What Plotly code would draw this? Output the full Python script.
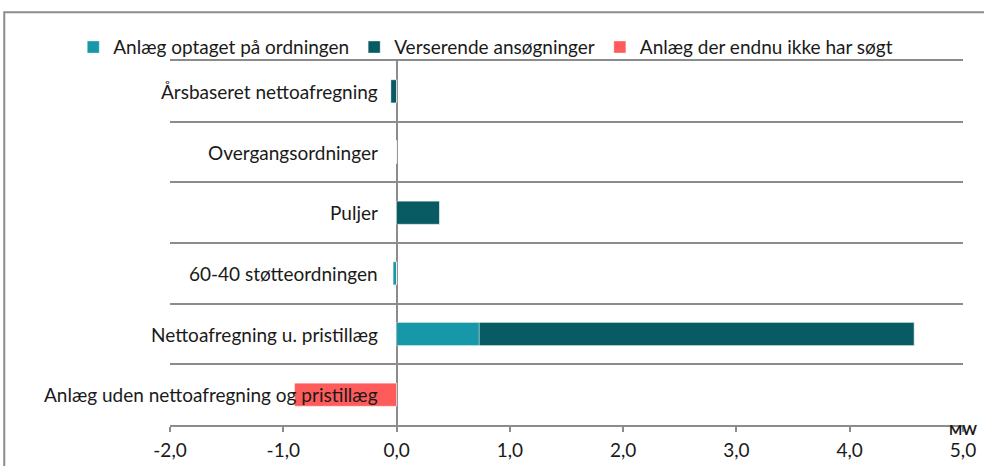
import plotly.graph_objects as go

# categories, top to bottom as in the chart
categories = [
    "Årsbaseret nettoafregning",
    "Overgangsordninger",
    "Puljer",
    "60-40 støtteordningen",
    "Nettoafregning u. pristillæg",
    "Anlæg uden nettoafregning og pristillæg",
]

# MW per series
optaget = [0, 0, 0, -0.03, 0.73, 0]
verserende = [-0.05, 0, 0.38, 0, 3.84, 0]
ikke_soegt = [0, 0, 0, 0, 0, -0.9]

series_names = [
    "Anlæg optaget på ordningen",
    "Verserende ansøgninger",
    "Anlæg der endnu ikke har søgt",
]
colors = ["#1798A8", "#085B62", "#FF5B5B"]

x_ticks = [-2, -1, 0, 1, 2, 3, 4, 5]
x_tick_labels = ["-2,0", "-1,0", "0,0", "1,0", "2,0", "3,0", "4,0", "5,0"]

font = "Lato"
fsize = 19

fig = go.Figure()
for name, vals, col in zip(series_names, [optaget, verserende, ikke_soegt], colors):
    fig.add_trace(go.Bar(
        y=categories,
        x=vals,
        name=name,
        orientation="h",
        width=0.38,
        marker=dict(color=col, line=dict(color="rgba(255,255,255,0.35)", width=1)),
    ))

# category labels next to the zero line
for cat in categories:
    fig.add_annotation(
        x=0, y=cat, xref="x", yref="y",
        text=cat, showarrow=False,
        xanchor="right", xshift=-17,
        font=dict(family=font, size=fsize, color="#1a1a1a"),
    )

fig.add_annotation(
    x=5, y=-0.012, xref="x", yref="paper",
    text="<b>MW</b>", showarrow=False,
    xanchor="center", yanchor="middle",
    font=dict(family=font, size=14, color="#1a1a1a"),
)

# outer frame
fig.add_shape(
    type="rect", xref="paper", yref="paper",
    x0=-0.209, x1=1.2, y0=-0.3, y1=1.134,
    line=dict(color="#8c8c8c", width=2),
    layer="below",
)

fig.update_layout(
    width=984,
    height=466,
    margin=dict(l=170, r=21, t=61, b=41),
    plot_bgcolor="white",
    paper_bgcolor="white",
    barmode="relative",
    font=dict(family=font, size=fsize, color="#1a1a1a"),
    showlegend=True,
    legend=dict(
        orientation="h",
        x=-0.122, y=1.038,
        xanchor="left", yanchor="middle",
        bgcolor="rgba(0,0,0,0)",
        font=dict(family=font, size=fsize),
        traceorder="normal",
        itemwidth=30,
    ),
)

fig.update_xaxes(
    range=[-2, 5],
    tickvals=x_ticks,
    ticktext=x_tick_labels,
    automargin=False,
    showgrid=False,
    zeroline=True,
    zerolinecolor="#8c8c8c",
    zerolinewidth=2,
    showline=True,
    mirror=True,
    linecolor="#8c8c8c",
    linewidth=2,
    ticks="outside",
    ticklen=5,
    tickwidth=2,
    tickcolor="#8c8c8c",
    ticklabelstandoff=2,
    tickfont=dict(family=font, size=fsize),
)

fig.update_yaxes(
    categoryorder="array",
    categoryarray=categories[::-1],
    range=[-0.5, 5.5],
    automargin=False,
    tickson="boundaries",
    showgrid=True,
    gridcolor="#8c8c8c",
    gridwidth=2,
    showticklabels=False,
    ticks="",
    zeroline=False,
)

# drop the page's default body margin so the figure fills the window
fig.write_html(
    "out.html",
    config={"displayModeBar": False},
    post_script="document.body.style.margin='0';",
)
